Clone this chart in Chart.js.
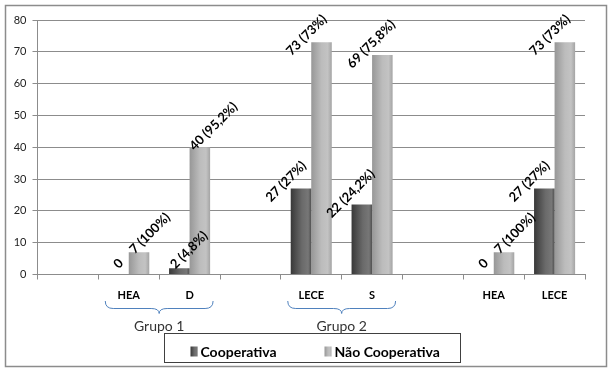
<!DOCTYPE html>
<html>
<head>
<meta charset="utf-8">
<script src="https://cdn.jsdelivr.net/npm/chart.js@4/dist/chart.umd.min.js"></script>
<style>
  html, body { margin: 0; padding: 0; background: #fff; }
  #wrap { width: 609px; height: 369px; }
</style>
</head>
<body>
<div id="wrap"><canvas id="grafico" width="609" height="369"></canvas></div>
<script>
// categorias do eixo x (as vazias separam os grupos)
const categorias = ['', 'HEA', 'D', '', 'LECE', 'S', '', 'HEA', 'LECE'];
const series = ['Cooperativa', 'Não Cooperativa'];
const cooperativa = [null, 0, 2, null, 27, 22, null, 0, 27];
const naoCooperativa = [null, 7, 40, null, 73, 69, null, 7, 73];
const pctCooperativa = [null, null, 4.8, null, 27, 24.2, null, null, 27];
const pctNaoCooperativa = [null, 100, 95.2, null, 73, 75.8, null, 100, 73];
const grupos = ['Grupo 1', 'Grupo 2'];
const gruposInicio = [1, 4];
const gruposFim = [2, 5];
const yMin = 0, yMax = 80, yPasso = 10;

const FONTE = 'Lato, "Open Sans", sans-serif';
const LARGURA_CAT = 0.675;

const tonsEscuros = [[0, '#383838'], [0.55, '#6a6a6a'], [0.85, '#777777'], [1, '#505050']];
const tonsClaros = [[0, '#979797'], [0.5, '#bcbcbc'], [0.8, '#c3c3c3'], [1, '#a4a4a4']];

function gradiente(ctx, left, w, tons) {
  const g = ctx.createLinearGradient(left, 0, left + w, 0);
  tons.forEach(t => g.addColorStop(t[0], t[1]));
  return g;
}

// gradiente horizontal por barra, calculado a partir da escala x
function corBarra(tons, di) {
  return function(c) {
    const chart = c.chart;
    const x = chart.scales && chart.scales.x;
    if (c.type !== 'data' || !x || !chart.chartArea) return tons[1][1];
    const centro = x.getPixelForValue(c.dataIndex);
    const w = (x.width / categorias.length) * LARGURA_CAT / 2;
    const left = di === 0 ? centro - w : centro;
    return gradiente(chart.ctx, left, w, tons);
  };
}

function rotulo(v, p) {
  if (p == null) return String(v);
  return v + ' (' + String(p).replace('.', ',') + '%)';
}

// rótulos de valor inclinados a 45 graus
const rotulosPlugin = {
  id: 'rotulos',
  afterDatasetsDraw(chart) {
    const ctx = chart.ctx;
    const pcts = [pctCooperativa, pctNaoCooperativa];
    ctx.save();
    ctx.font = 'bold 13px ' + FONTE;
    ctx.fillStyle = '#000';
    ctx.textAlign = 'left';
    ctx.textBaseline = 'middle';
    chart.data.datasets.forEach((ds, di) => {
      const meta = chart.getDatasetMeta(di);
      meta.data.forEach((bar, i) => {
        const v = ds.data[i];
        if (v == null) return;
        const texto = rotulo(v, pcts[di][i]);
        const L = ctx.measureText(texto).width;
        const outro = chart.data.datasets[1 - di].data[i];
        let sx = bar.x - 2 - 0.1 * L;
        let sy = bar.y - 9.5 + 0.17 * L;
        const cy = sy - 0.354 * L;
        const topo = cy - (L + 12) / 2.83;
        const passaTopo = topo < chart.chartArea.top - 4;
        const encostado = di === 0 && v >= 10 && outro > v;
        if (passaTopo || encostado) {
          sx = bar.x - 33;
          sy = bar.y + 11;
        }
        ctx.save();
        ctx.translate(sx, sy);
        ctx.rotate(-Math.PI / 4);
        ctx.fillText(texto, 0, 0);
        ctx.restore();
      });
    });
    ctx.restore();
  }
};

// chaves e nomes dos grupos, legenda e moldura
const extrasPlugin = {
  id: 'extras',
  afterDraw(chart) {
    const ctx = chart.ctx;
    const x = chart.scales.x;
    const b = chart.chartArea.bottom;
    ctx.save();

    grupos.forEach((nome, g) => {
      const c1 = x.getPixelForValue(gruposInicio[g]);
      const c2 = x.getPixelForValue(gruposFim[g]);
      const x1 = c1 - 23.5, x2 = c2 + 23.5, xm = (c1 + c2) / 2;
      const y0 = b + 26.5, y1 = b + 34, y2 = b + 39;
      ctx.beginPath();
      ctx.moveTo(x1, y0);
      ctx.quadraticCurveTo(x1, y1, x1 + 8, y1);
      ctx.lineTo(xm - 8, y1);
      ctx.quadraticCurveTo(xm, y1, xm, y2);
      ctx.quadraticCurveTo(xm, y1, xm + 8, y1);
      ctx.lineTo(x2 - 8, y1);
      ctx.quadraticCurveTo(x2, y1, x2, y0);
      ctx.strokeStyle = '#4f81bd';
      ctx.lineWidth = 1;
      ctx.stroke();

      ctx.font = '14px ' + FONTE;
      ctx.fillStyle = '#333';
      ctx.textAlign = 'center';
      ctx.textBaseline = 'middle';
      ctx.fillText(nome, xm, b + 52);
    });

    // legenda
    ctx.strokeStyle = '#404040';
    ctx.lineWidth = 1;
    ctx.strokeRect(164.5, 333.5, 296, 29);
    const itens = [
      { x: 190.5, tons: tonsEscuros, texto: series[0] },
      { x: 324.5, tons: tonsClaros, texto: series[1] }
    ];
    ctx.font = 'bold 14px ' + FONTE;
    ctx.textAlign = 'left';
    ctx.textBaseline = 'middle';
    itens.forEach(it => {
      ctx.fillStyle = gradiente(ctx, it.x, 7, it.tons);
      ctx.fillRect(it.x, 346.5, 7, 10);
      ctx.fillStyle = '#000';
      ctx.fillText(it.texto, it.x + 10, 352);
    });

    // moldura externa
    ctx.strokeStyle = '#8c8c8c';
    ctx.lineWidth = 1.5;
    ctx.strokeRect(5.5, 5.5, 601, 361);
    ctx.restore();
  }
};

new Chart(document.getElementById('grafico').getContext('2d'), {
  type: 'bar',
  data: {
    labels: categorias,
    datasets: [
      {
        label: series[0],
        data: cooperativa,
        backgroundColor: corBarra(tonsEscuros, 0),
        borderWidth: 0,
        categoryPercentage: LARGURA_CAT,
        barPercentage: 1
      },
      {
        label: series[1],
        data: naoCooperativa,
        backgroundColor: corBarra(tonsClaros, 1),
        borderWidth: 0,
        categoryPercentage: LARGURA_CAT,
        barPercentage: 1
      }
    ]
  },
  options: {
    responsive: false,
    animation: false,
    layout: { padding: { top: 20, right: 24, bottom: 64.5, left: 0 } },
    plugins: {
      legend: { display: false },
      tooltip: { enabled: false }
    },
    scales: {
      x: {
        afterFit: s => { s.height = 30; },
        grid: { drawOnChartArea: false, drawTicks: true, tickLength: 5, color: '#8c8c8c' },
        border: { color: '#8c8c8c' },
        ticks: {
          autoSkip: false,
          maxRotation: 0,
          padding: 9.5,
          color: '#000',
          font: { family: FONTE, size: 11, weight: 'bold' }
        }
      },
      y: {
        min: yMin,
        max: yMax,
        afterFit: s => { s.width = 37.5; },
        grid: { color: '#8c8c8c', tickLength: 5 },
        border: { color: '#8c8c8c' },
        ticks: {
          stepSize: yPasso,
          padding: 6,
          color: '#222',
          font: { family: FONTE, size: 11 }
        }
      }
    }
  },
  plugins: [rotulosPlugin, extrasPlugin]
});
</script>
</body>
</html>
